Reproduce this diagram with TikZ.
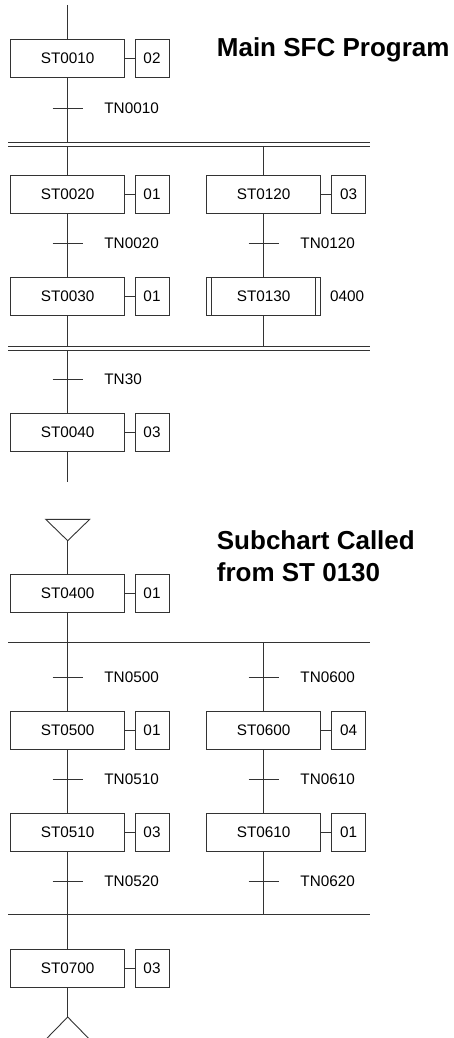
\documentclass[tikz,border=0pt]{standalone}
\usepackage{fontspec}
\setmainfont{Liberation Sans}
\usetikzlibrary{calc}
\definecolor{linec}{HTML}{333333}
\newcommand\sfcbody{\fontsize{15.3}{18}\selectfont}
\newcommand\sfctitle{\fontsize{26}{31}\selectfont\bfseries}
\begin{document}
\begin{tikzpicture}[x=1pt,y=-1pt,
  ln/.style={draw=linec, line width=0.9pt},
  stepbox/.style={draw=linec, line width=0.9pt, minimum width=114pt, minimum height=38pt, inner sep=0pt, font=\sfcbody},
  actbox/.style={draw=linec, line width=0.9pt, minimum width=34pt, minimum height=38pt, inner sep=0pt, font=\sfcbody},
  tlabel/.style={anchor=west, inner sep=0pt, font=\sfcbody},
  sfctitle/.style={anchor=base west, inner sep=0pt, font=\sfctitle}]
\useasboundingbox (0,0) rectangle (454,1038);

% ---- titles
\node[sfctitle] (t1) at (216.7,56.7) {Main SFC Program};
\node[sfctitle] (t2a) at (216.7,549.3) {Subchart Called};
\node[sfctitle] (t2b) at (216.7,581.7) {from ST 0130};

% ---- steps (main)
\node[stepbox] (st0010) at (67.7,58) {ST0010};
\node[actbox]  (a0010)  at (152,58) {02};
\node[stepbox] (st0020) at (67.7,194.3) {ST0020};
\node[actbox]  (a0020)  at (152,194.3) {01};
\node[stepbox] (st0120) at (263.7,194.3) {ST0120};
\node[actbox]  (a0120)  at (348.7,194.3) {03};
\node[stepbox] (st0030) at (67.7,296.5) {ST0030};
\node[actbox]  (a0030)  at (152,296.5) {01};
\node[stepbox] (st0130) at (263.7,296.5) {ST0130};
\node[tlabel]  (a0130)  at (330,296.5) {0400};
\node[stepbox] (st0040) at (67.7,432.7) {ST0040};
\node[actbox]  (a0040)  at (152,432.7) {03};

% ---- steps (subchart)
\node[stepbox] (st0400) at (67.7,593.7) {ST0400};
\node[actbox]  (a0400)  at (152,593.7) {01};
\node[stepbox] (st0500) at (67.7,730) {ST0500};
\node[actbox]  (a0500)  at (152,730) {01};
\node[stepbox] (st0600) at (263.7,730) {ST0600};
\node[actbox]  (a0600)  at (348.7,730) {04};
\node[stepbox] (st0510) at (67.7,832) {ST0510};
\node[actbox]  (a0510)  at (152,832) {03};
\node[stepbox] (st0610) at (263.7,832) {ST0610};
\node[actbox]  (a0610)  at (348.7,832) {01};
\node[stepbox] (st0700) at (67.7,968) {ST0700};
\node[actbox]  (a0700)  at (152,968) {03};

% macro-step side bars
\draw[ln] ($(st0130.north west)+(5.6,0)$) -- ($(st0130.south west)+(5.6,0)$);
\draw[ln] ($(st0130.north east)+(-5.6,0)$) -- ($(st0130.south east)+(-5.6,0)$);

% action links
\foreach \s/\a in {st0010/a0010,st0020/a0020,st0120/a0120,st0030/a0030,st0040/a0040,
                   st0400/a0400,st0500/a0500,st0600/a0600,st0510/a0510,st0610/a0610,st0700/a0700}
  \draw[ln] (\s.east) -- (\a.west);

% ---- bus lines
\coordinate (d1a) at (8,142);   \coordinate (d1b) at (370,142);
\coordinate (d2a) at (8,146.3); \coordinate (d2b) at (370,146.3);
\coordinate (d3a) at (8,346);   \coordinate (d3b) at (370,346);
\coordinate (d4a) at (8,350.5); \coordinate (d4b) at (370,350.5);
\coordinate (s1a) at (8,642.7); \coordinate (s1b) at (370,642.7);
\coordinate (s2a) at (8,914.7); \coordinate (s2b) at (370,914.7);
\foreach \p/\q in {d1a/d1b,d2a/d2b,d3a/d3b,d4a/d4b,s1a/s1b,s2a/s2b}
  \draw[ln] (\p) -- (\q);

% ---- vertical links
\coordinate (top) at (67.7,5);
\coordinate (end1) at (67.7,481.7);
\draw[ln] (top) -- (st0010.north);
\draw[ln] (st0010.south) -- (st0010.south |- d1a);
\draw[ln] (st0020.north |- d2a) -- (st0020.north);
\draw[ln] (st0120.north |- d2a) -- (st0120.north);
\draw[ln] (st0020.south) -- (st0030.north);
\draw[ln] (st0120.south) -- (st0130.north);
\draw[ln] (st0030.south) -- (st0030.south |- d3a);
\draw[ln] (st0130.south) -- (st0130.south |- d3a);
\draw[ln] (st0040.north |- d4a) -- (st0040.north);
\draw[ln] (st0040.south) -- (end1);

% subchart entry / exit triangles
\coordinate (inA) at (67.7,540.7);
\draw[ln, line join=miter] (inA) -- (45.7,519.3) -- (89.7,519.3) -- cycle;
\draw[ln] (inA) -- (st0400.north);
\draw[ln] (st0400.south) -- (st0400.south |- s1a);
\draw[ln] (st0500.north |- s1a) -- (st0500.north);
\draw[ln] (st0600.north |- s1a) -- (st0600.north);
\draw[ln] (st0500.south) -- (st0510.north);
\draw[ln] (st0600.south) -- (st0610.north);
\draw[ln] (st0510.south) -- (st0510.south |- s2a);
\draw[ln] (st0610.south) -- (st0610.south |- s2a);
\draw[ln] (st0700.north |- s2a) -- (st0700.north);
\coordinate (outA) at (67.7,1017);
\draw[ln] (st0700.south) -- (outA);
\draw[ln, line join=miter] (outA) -- (45.7,1039.5) -- (89.7,1039.5) -- cycle;

% ---- transitions
\foreach \n/\x/\y/\t in {tn0010/67.7/108/TN0010, tn0020/67.7/243.7/TN0020, tn0120/263.7/243.7/TN0120,
    tn30/67.7/379.7/TN30, tn0500/67.7/677/TN0500, tn0600/263.7/677/TN0600,
    tn0510/67.7/779/TN0510, tn0610/263.7/779/TN0610, tn0520/67.7/881/TN0520, tn0620/263.7/881/TN0620} {
  \coordinate (\n) at (\x,\y);
  \draw[ln] ([xshift=-15pt]\n) -- ([xshift=15pt]\n);
  \node[tlabel] (\n l) at ([xshift=36.5pt]\n) {\t};
}
\end{tikzpicture}
\end{document}
